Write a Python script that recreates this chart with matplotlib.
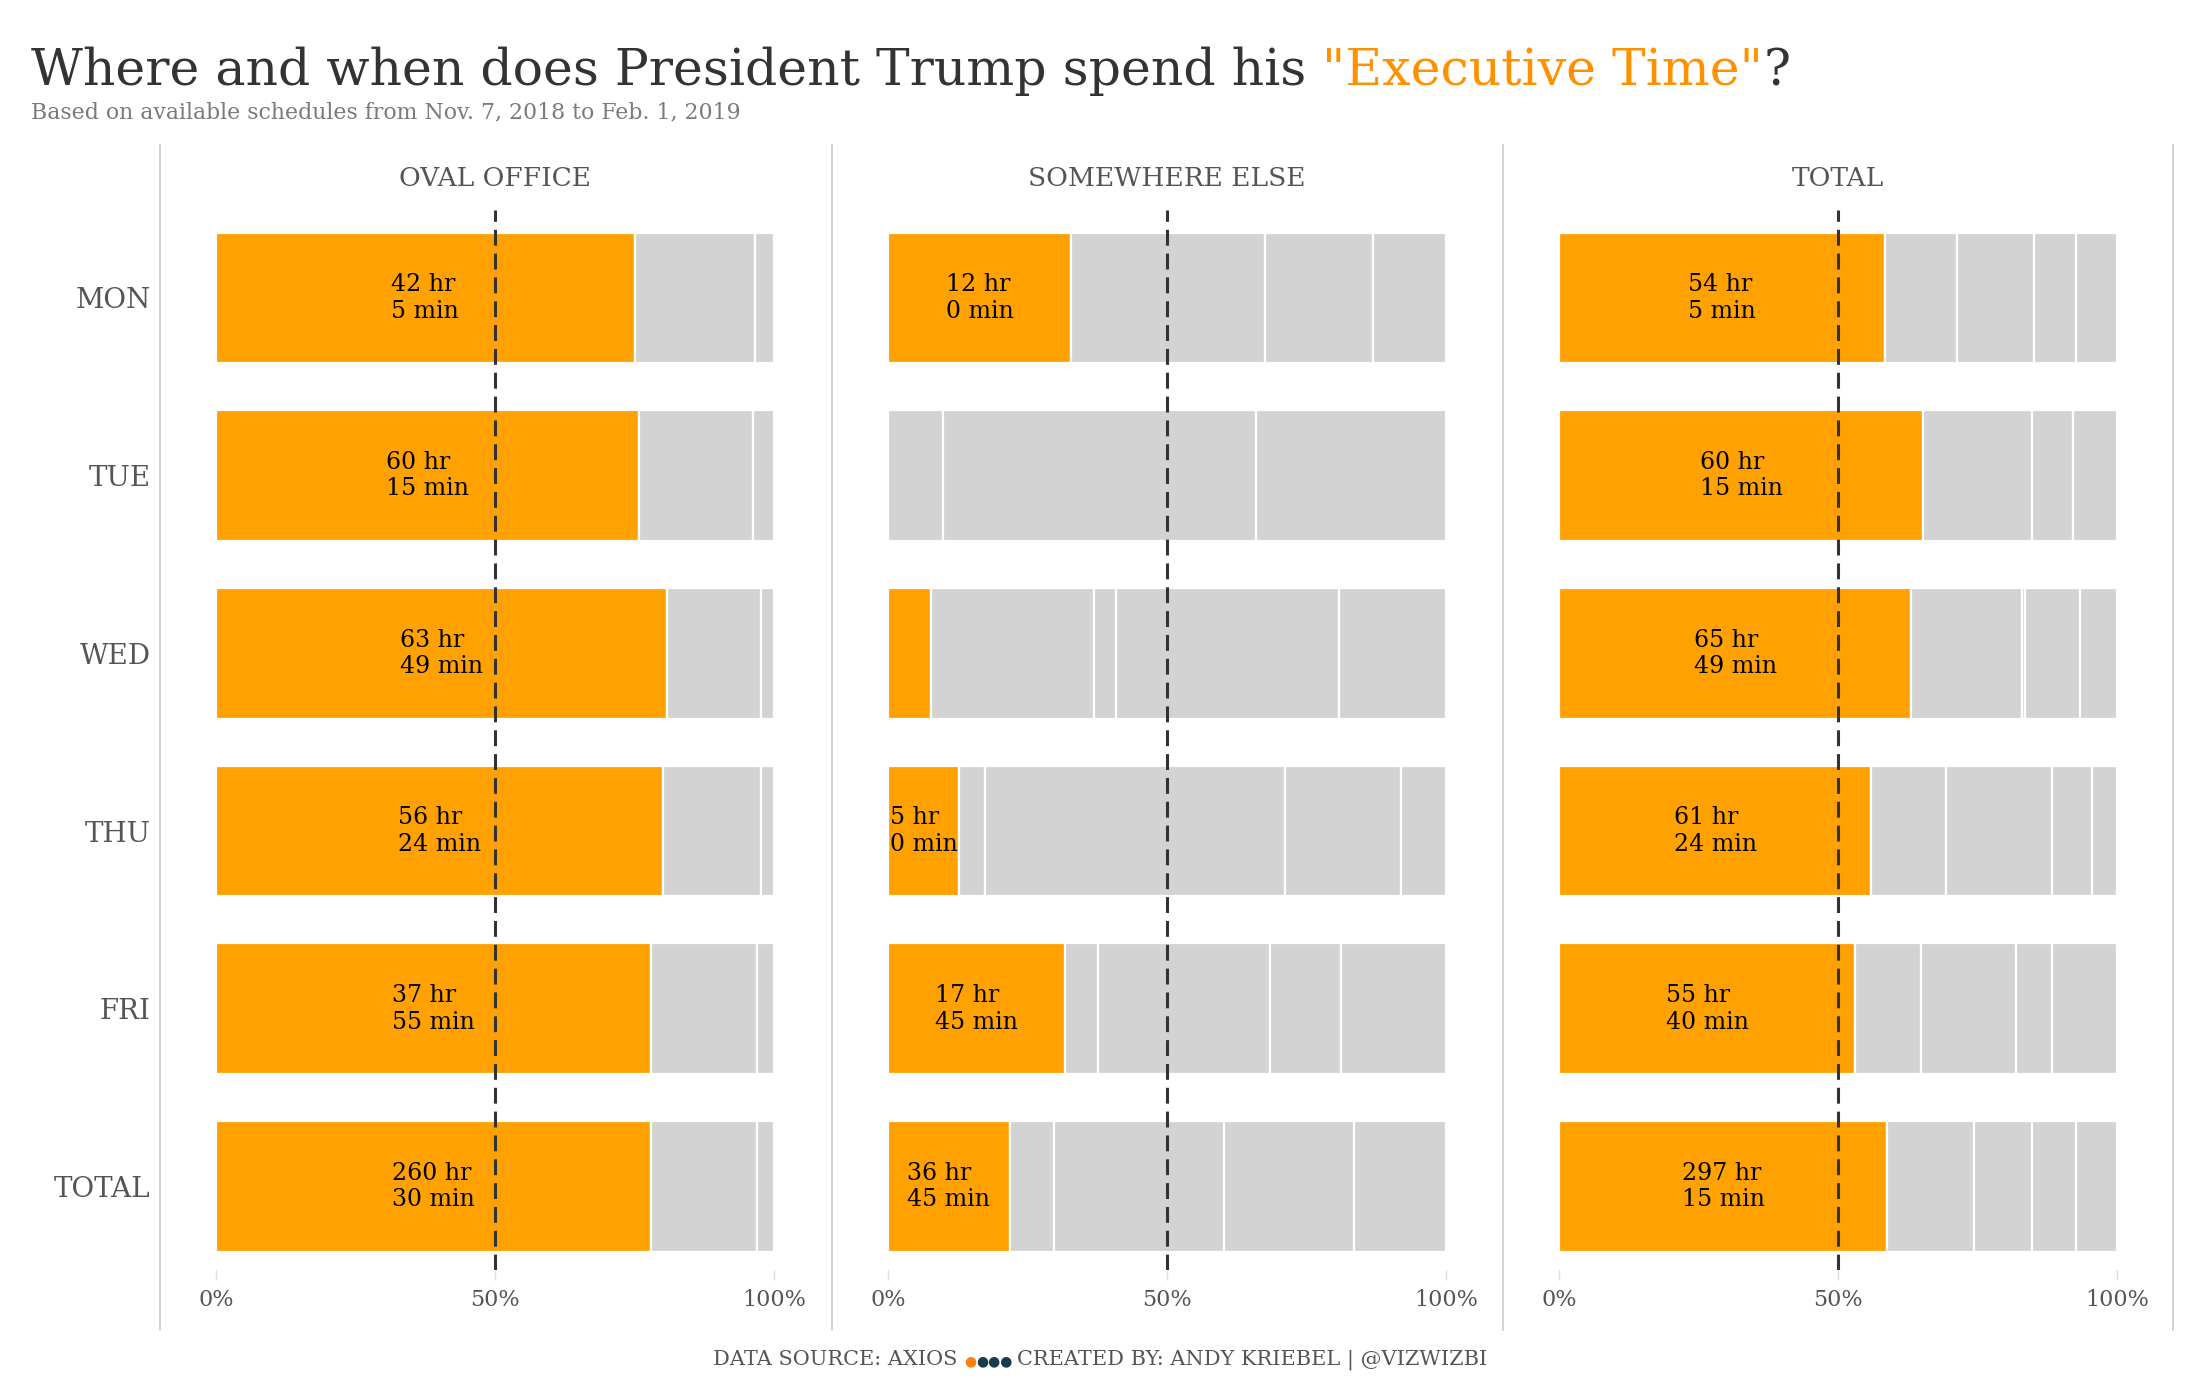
import matplotlib
matplotlib.use("Agg")
import matplotlib.pyplot as plt
from matplotlib.lines import Line2D

plt.rcParams['font.family'] = ['DejaVu Serif', 'DejaVu Sans']

# ---------------- data ----------------
days = ['MON', 'TUE', 'WED', 'THU', 'FRI', 'TOTAL']
panels = ['OVAL OFFICE', 'SOMEWHERE ELSE', 'TOTAL']

# executive time label (hours, minutes); None = no label shown
oval_exec = [(42, 5), (60, 15), (63, 49), (56, 24), (37, 55), (260, 30)]
else_exec = [(12, 0), None, None, (5, 0), (17, 45), (36, 45)]
total_exec = [(54, 5), (60, 15), (65, 49), (61, 24), (55, 40), (297, 15)]

# share of each bar (%): first = executive time, rest = other schedule items
oval_shares = [
    [75.0, 21.6, 3.4],
    [75.8, 20.4, 3.8],
    [80.8, 16.9, 2.3],
    [80.1, 17.6, 2.3],
    [78.0, 18.9, 3.1],
    [78.0, 18.9, 3.1],
]
else_shares = [
    [32.8, 34.7, 19.4, 13.1],
    [0.0, 9.9, 56.1, 34.0],
    [7.7, 29.2, 4.0, 39.9, 19.2],
    [12.7, 4.7, 53.7, 20.9, 8.0],
    [31.8, 5.8, 30.9, 12.6, 18.9],
    [21.8, 7.9, 30.6, 23.3, 16.4],
]
total_shares = [
    [58.4, 13.0, 13.7, 7.5, 7.4],
    [65.3, 19.4, 7.5, 7.8],
    [63.1, 19.9, 0.5, 9.8, 6.7],
    [56.0, 13.3, 19.0, 7.2, 4.5],
    [53.1, 11.8, 17.0, 6.4, 11.7],
    [58.8, 15.5, 10.4, 7.9, 7.4],
]
x_ticks = [0, 50, 100]
x_ticklabels = ['0%', '50%', '100%']

panel_shares = [oval_shares, else_shares, total_shares]
panel_labels = [oval_exec, else_exec, total_exec]

# ---------------- style ----------------
ORANGE = '#FFA100'
GRAY = '#D3D3D3'
TITLE_ORANGE = '#FF9100'
DARK = '#333333'
MID = '#555555'

W, H = 2200, 1400
fig = plt.figure(figsize=(22, 14), dpi=100)

ax_lefts = [216, 888, 1559]
ax_w = 558
ax_top, ax_bot = 210, 1270

axes = []
for p in range(3):
    ax = fig.add_axes([ax_lefts[p] / W, 1 - ax_bot / H, ax_w / W, (ax_bot - ax_top) / H])
    axes.append(ax)
    shares = panel_shares[p]
    for i, row in enumerate(shares):
        left = 0
        for j, w in enumerate(row):
            if w > 0:
                ax.barh(i, w, left=left, height=0.736,
                        color=ORANGE if j == 0 else GRAY,
                        edgecolor='white', linewidth=1.6, zorder=2)
            left += w
        lab = panel_labels[p][i]
        if lab is not None:
            h_, m_ = lab
            ax.text(row[0] / 2, i, f"{h_} hr\n{m_} min", ha='center', va='center',
                    multialignment='left', fontsize=17, color='black',
                    linespacing=1.2, zorder=4)
    ax.axvline(50, color=DARK, lw=2.2, ls=(0, (5.2, 2.6)), zorder=3)
    ax.set_xlim(0, 100)
    ax.set_ylim(5.47, -0.495)
    for s in ax.spines.values():
        s.set_visible(False)
    ax.set_xticks(x_ticks)
    ax.set_xticklabels(x_ticklabels)
    ax.tick_params(axis='x', colors='#dddddd', labelcolor=MID, labelsize=16,
                   length=7, width=1, pad=7)
    if p == 0:
        ax.set_yticks(range(len(days)))
        ax.set_yticklabels(days)
        ax.tick_params(axis='y', length=0, labelsize=20, labelcolor=MID, pad=47)
    else:
        ax.set_yticks([])
    fig.text((ax_lefts[p] + ax_w / 2) / W, 1 - 179 / H, panels[p], ha='center',
             va='center', fontsize=19, color=MID)

# panel separators
for xs in [160, 832, 1503, 2173]:
    fig.add_artist(Line2D([xs / W, xs / W], [1 - 145 / H, 1 - 1330 / H],
                          color='#cccccc', lw=1.2, transform=fig.transFigure))

fig.canvas.draw()
renderer = fig.canvas.get_renderer()


def width_px(t):
    return t.get_window_extent(renderer).width


def space_px(size, **kw):
    a = fig.text(0, 0, 'x x', fontsize=size, **kw)
    b = fig.text(0, 0, 'xx', fontsize=size, **kw)
    w = width_px(a) - width_px(b)
    a.remove(); b.remove()
    return w


def sequence(pieces, y, x0=None, center=None):
    """pieces: list of (text, color, fontsize, space_after)"""
    texts = []
    widths = []
    for txt, col, fs, sp in pieces:
        t = fig.text(0, y, txt, color=col, fontsize=fs, va='baseline', ha='left')
        texts.append(t)
        widths.append(width_px(t) + (space_px(fs) if sp else 0))
    total = sum(widths)
    if center is not None:
        x = center * W - total / 2
    else:
        x = x0 * W
    for t, w in zip(texts, widths):
        t.set_x(x / W)
        x += w
    return texts


# title
sequence([
    ('Where and when does President Trump spend his', DARK, 36.4, True),
    ('"Executive Time"', TITLE_ORANGE, 36.4, False),
    ('?', DARK, 36.4, False),
], y=1 - 85 / H, x0=31 / W)

fig.text(31 / W, 1 - 118 / H, 'Based on available schedules from Nov. 7, 2018 to Feb. 1, 2019',
         fontsize=15.8, color='#7a7a7a', va='baseline', ha='left')

# footer
sequence([
    ('DATA SOURCE: AXIOS', MID, 15, True),
    ('●', '#FF7F0E', 10, False),
    ('●●●', '#1B3B4B', 10, True),
    ('CREATED BY: ANDY KRIEBEL | @VIZWIZBI', MID, 15, False),
], y=1 - 1365 / H, center=0.5)

fig.savefig('out.png', dpi=100, facecolor='white')
